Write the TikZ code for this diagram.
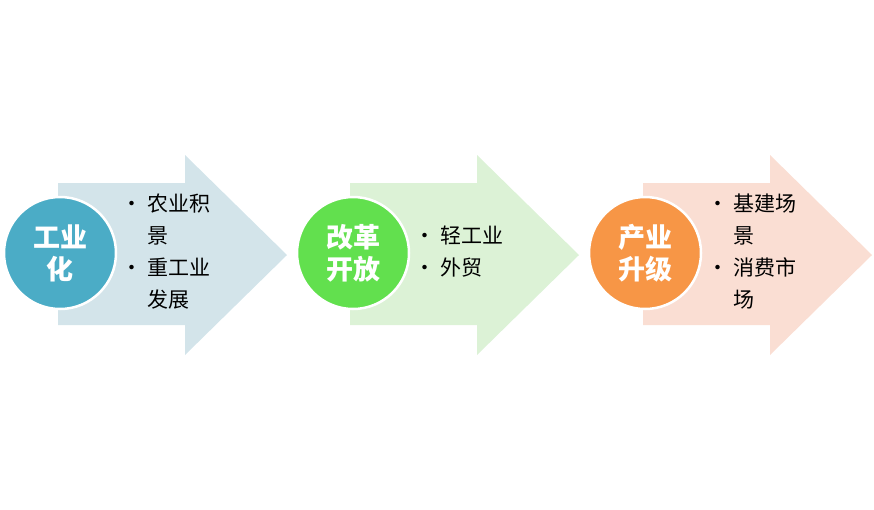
\documentclass[tikz,border=0pt]{standalone}
\usepackage{fontspec}
\newfontfamily\cjk{Noto Sans CJK SC}
\definecolor{a1}{HTML}{D3E4EA}\definecolor{c1}{HTML}{4BACC6}
\definecolor{a2}{HTML}{DCF2D6}\definecolor{c2}{HTML}{62E04E}
\definecolor{a3}{HTML}{FADED3}\definecolor{c3}{HTML}{F79646}
\tikzset{circ/.style={circle,draw=white,line width=2.5pt,minimum size=112pt,inner sep=0pt,font=\cjk\fontsize{27}{32}\selectfont\bfseries,text=white,align=center},
bl/.style={anchor=west,font=\cjk\fontsize{21}{32}\selectfont,align=left}}
\newcommand{\myarrow}[2]{\fill[#2] (#1+58,183) -- (#1+185,183) -- (#1+185,155) -- (#1+287,255) -- (#1+185,355) -- (#1+185,325) -- (#1+58,325) -- cycle;}
\begin{document}
\begin{tikzpicture}[x=1pt,y=-1pt]
\useasboundingbox (0,0) rectangle (874,509);
\myarrow{0}{a1}\myarrow{292}{a2}\myarrow{585}{a3}
\node[circ,fill=c1] (k1) at (60,253) {工业\\化};
\node[circ,fill=c2] (k2) at (353,253) {改革\\开放};
\node[circ,fill=c3] (k3) at (645,253) {产业\\升级};
\node[bl] (t1) at (118,252) {• 农业积\\\phantom{• }景\\• 重工业\\\phantom{• }发展};
\node[bl] (t2) at (411,252) {• 轻工业\\• 外贸};
\node[bl] (t3) at (704,252) {• 基建场\\\phantom{• }景\\• 消费市\\\phantom{• }场};
\end{tikzpicture}
\end{document}
